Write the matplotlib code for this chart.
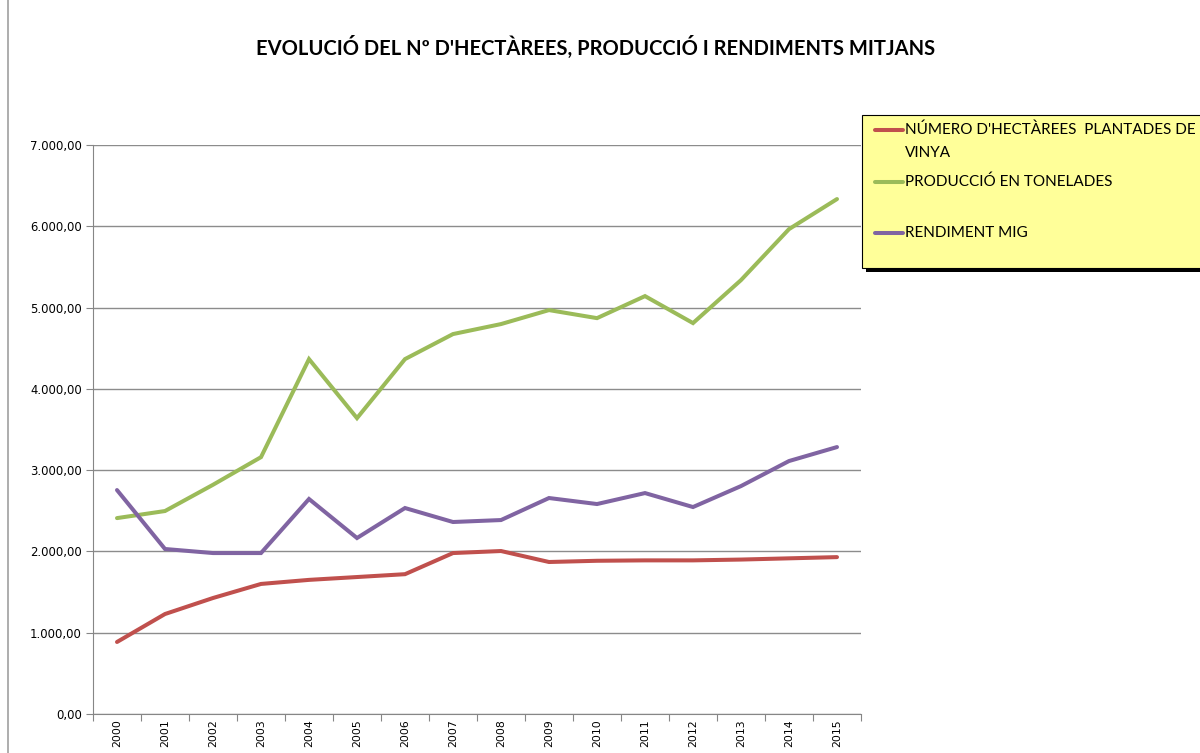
import matplotlib
matplotlib.use("Agg")
from matplotlib import pyplot as plt
from matplotlib.patches import Rectangle
from matplotlib.lines import Line2D
from matplotlib.ticker import FuncFormatter, FixedLocator

# data
years = ["2000", "2001", "2002", "2003", "2004", "2005", "2006", "2007",
         "2008", "2009", "2010", "2011", "2012", "2013", "2014", "2015"]
hectarees = [886, 1230, 1427, 1600, 1650, 1685, 1720, 1980,
             2005, 1870, 1885, 1890, 1890, 1900, 1915, 1930]
produccio = [2410, 2497, 2820, 3160, 4366, 3640, 4366, 4674,
             4797, 4969, 4870, 5141, 4809, 5338, 5965, 6335]
rendiment = [2755, 2030, 1980, 1980, 2645, 2165, 2534, 2362,
             2386, 2657, 2583, 2718, 2546, 2804, 3112, 3284]

labels = ["NÚMERO D'HECTÀREES  PLANTADES DE\nVINYA",
          "PRODUCCIÓ EN TONELADES",
          "RENDIMENT MIG"]
colors = ["#C0504D", "#9BBB59", "#8064A2"]

W, H = 1200, 753
fig = plt.figure(figsize=(12, 7.53), dpi=100)
ax = fig.add_axes([93 / W, 1 - 714 / H, (861 - 93) / W, (714 - 145) / H])

x = list(range(len(years)))
for vals, c in zip([hectarees, produccio, rendiment], colors):
    ax.plot(x, vals, color=c, lw=2.9, solid_capstyle="round", solid_joinstyle="miter", zorder=3)

ax.set_xlim(-0.5, len(years) - 0.5)
ax.set_ylim(0, 7000)
ax.set_yticks(range(0, 7001, 1000))
ax.yaxis.set_major_formatter(FuncFormatter(
    lambda v, p: "{:,.2f}".format(v).replace(",", "X").replace(".", ",").replace("X", ".")))
ax.grid(axis="y", color="#8C8C8C", lw=1, zorder=1)

# category boundaries as tick marks, labels in the middle
ax.xaxis.set_major_locator(FixedLocator([i - 0.5 for i in range(len(years) + 1)]))
ax.xaxis.set_major_formatter(FuncFormatter(lambda v, p: ""))
ax.xaxis.set_minor_locator(FixedLocator(x))
ax.set_xticklabels(years, minor=True, rotation=90, fontsize=7.8)
ax.tick_params(axis="x", which="major", length=5, color="#868686", direction="out")
ax.tick_params(axis="x", which="minor", length=0, pad=4)
ax.tick_params(axis="y", length=5, color="#868686", labelsize=8.4, pad=3)

for s in ["top", "right"]:
    ax.spines[s].set_visible(False)
ax.spines["left"].set_color("#868686")
ax.spines["bottom"].set_color("#868686")

fig.text(596 / W, 1 - 47 / H, "EVOLUCIÓ DEL Nº D'HECTÀREES, PRODUCCIÓ I RENDIMENTS MITJANS",
         ha="center", va="center", fontsize=14.5, fontweight="bold", family="Lato")

# chart area border on the left
fig.add_artist(Line2D([8 / W, 8 / W], [0, 1], color="#A0A0A0", lw=1.2))

# legend drawn as a box with shadow
fig.add_artist(Rectangle((866 / W, 1 - 272 / H), 400 / W, (272 - 115) / H,
                         facecolor="black", edgecolor="none", zorder=5))
fig.add_artist(Rectangle((862 / W, 1 - 268 / H), 400 / W, (268 - 115) / H,
                         facecolor="#FFFF99", edgecolor="black", lw=0.8, zorder=6))
for lab, c, yy in zip(labels, colors, [130, 182, 233]):
    fig.add_artist(Line2D([875 / W, 903 / W], [1 - yy / H] * 2, color=c, lw=2.9,
                          solid_capstyle="round", zorder=7))
    fig.text(905 / W, 1 - (yy - 7) / H, lab, ha="left", va="top", fontsize=11,
             family="Lato", linespacing=1.8, zorder=7)

fig.savefig("out.png", dpi=100)
